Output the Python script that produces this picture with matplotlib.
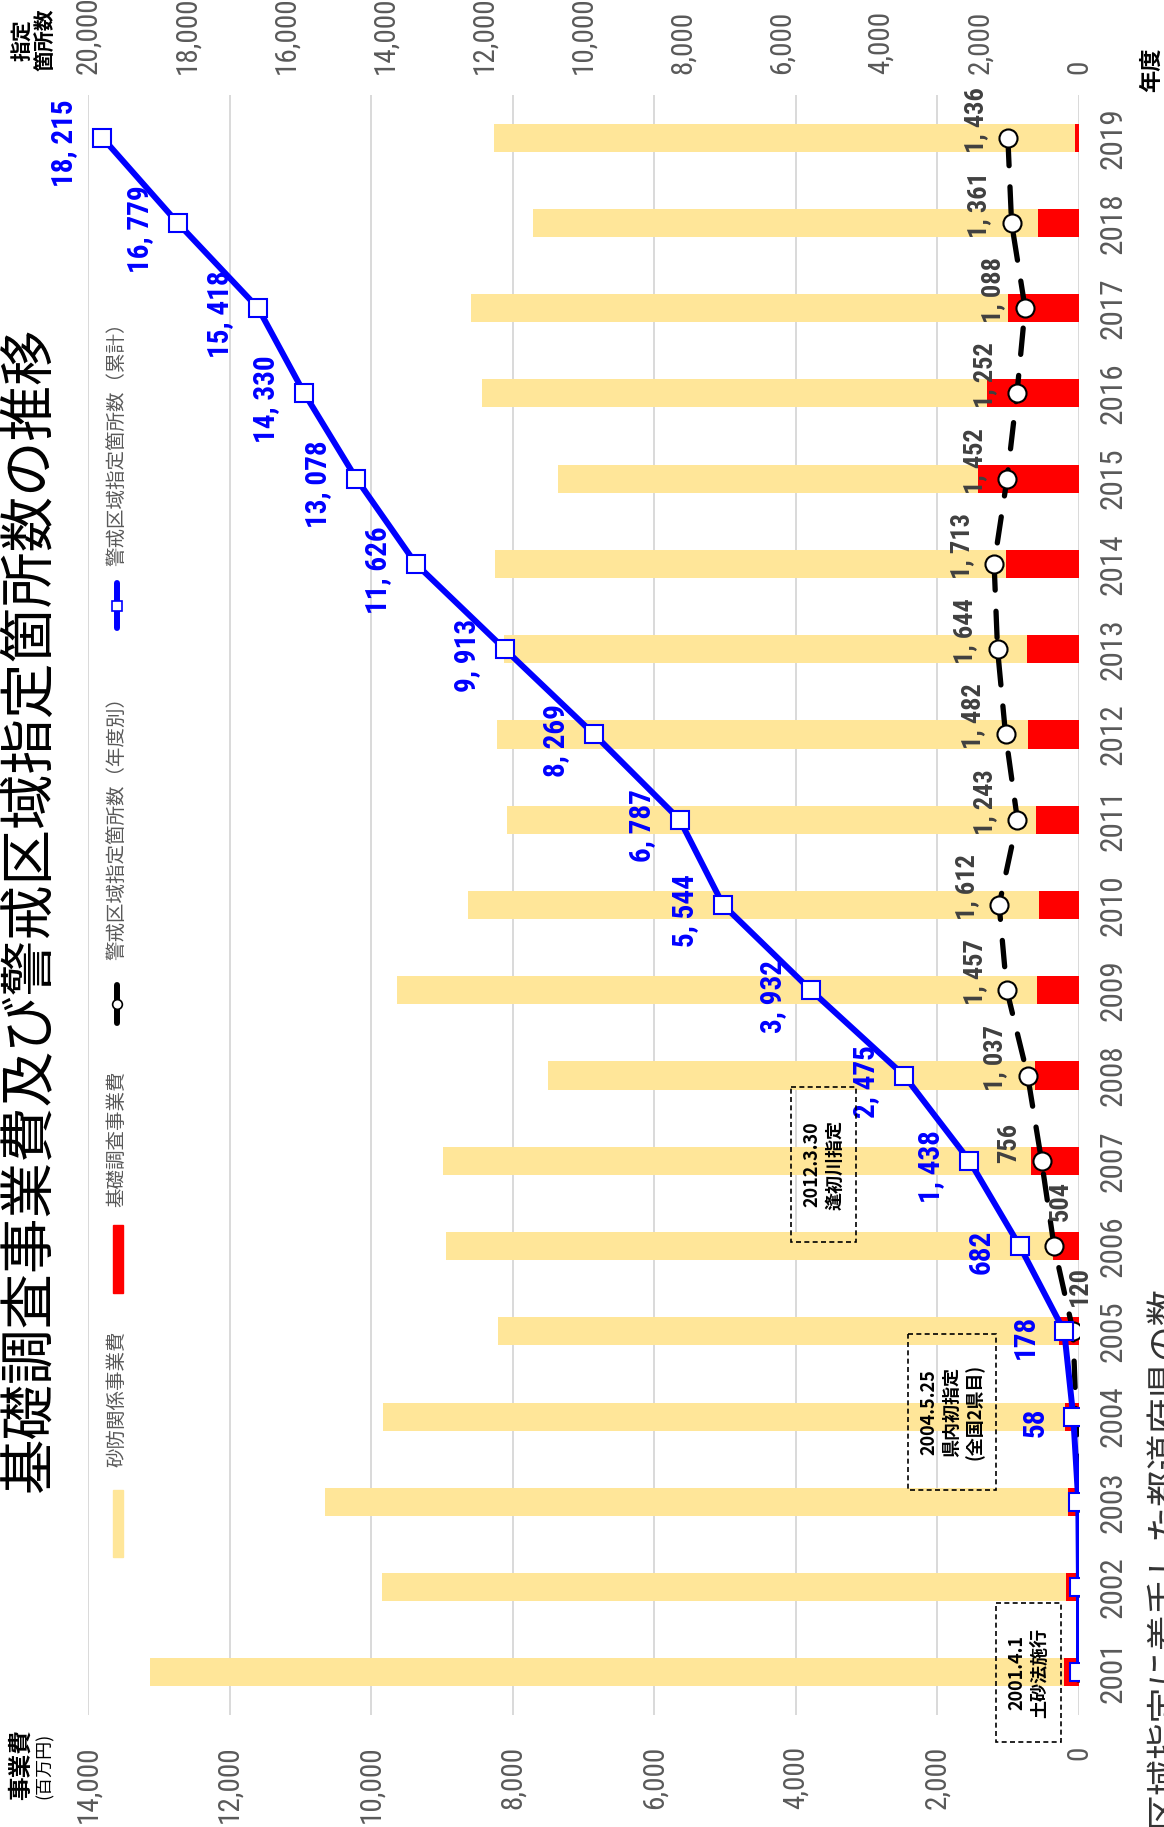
import matplotlib
matplotlib.use("Agg")
import matplotlib.pyplot as plt
from matplotlib import font_manager
from matplotlib.patches import Rectangle

JP = 'Noto Sans CJK JP'
fl = font_manager.fontManager.ttflist
names = {f.name for f in fl}

# 数字用の細めのフォントを探す (なければ縮小して代用)
if 'Liberation Sans Narrow' in names:
    NUM, STRETCH, K = 'Liberation Sans Narrow', 'normal', 1.0
elif 'Roboto Condensed' in names:
    NUM, STRETCH, K = 'Roboto Condensed', 'normal', 1.0
elif any(f.name == 'Roboto' and f.stretch == 'condensed' for f in fl):
    NUM, STRETCH, K = 'Roboto', 'condensed', 1.0
elif any(f.name == 'DejaVu Sans' and f.stretch == 'condensed' for f in fl):
    NUM, STRETCH, K = 'DejaVu Sans', 'condensed', 0.9
else:
    NUM, STRETCH, K = 'Roboto', 'normal', 0.88
plt.rcParams['font.family'] = [JP, 'DejaVu Sans']

# データ
years = list(range(2001, 2020))
sabo_cost = [13120, 9840, 10650, 9830, 8210, 8940, 8990, 7500, 9630, 8630,
             8080, 8220, 8120, 8250, 7360, 8430, 8590, 7720, 8260]   # 砂防関係事業費(百万円)
kiso_cost = [210, 190, 160, 195, 280, 370, 685, 615, 595, 560,
             610, 725, 730, 1030, 1420, 1295, 1005, 580, 60]        # 基礎調査事業費(百万円)
annual = [0, 0, 0, 58, 120, 504, 756, 1037, 1457, 1612,
          1243, 1482, 1644, 1713, 1452, 1252, 1088, 1361, 1436]     # 年度別
cumulative = [0, 0, 0, 58, 178, 682, 1438, 2475, 3932, 5544,
              6787, 8269, 9913, 11626, 13078, 14330, 15418, 16779, 18215]  # 累計(ラベル)
# 元の図で累計の線が描かれている位置(上の目盛で読んだ値)
cumulative_drawn = [0, 0, 14, 116, 298, 1197, 2211, 3529, 5410, 7181,
                    8059, 9783, 11588, 13381, 14584, 15633, 16566, 18190, 19710]
cost_ticks = list(range(0, 14001, 2000))
count_ticks = list(range(0, 20001, 2000))

title = '基礎調査事業費及び警戒区域指定箇所数の推移'
legend_labels = ['砂防関係事業費', '基礎調査事業費', '警戒区域指定箇所数（年度別）', '警戒区域指定箇所数（累計）']
notes = ['2001.4.1\n土砂法施行', '2004.5.25\n県内初指定\n(全国2県目)', '2012.3.30\n逢初川指定']

YELLOW = '#FFE699'
RED = '#FF0000'
BLUE = '#0000FF'
GRAY = '#595959'
num = dict(fontfamily=NUM, fontstretch=STRETCH)

W, H = 1164, 1827
fig = plt.figure(figsize=(W / 100, H / 100), dpi=100)

# 本体(回転した配置: 横が金額・箇所数、縦が年度)
ax = fig.add_axes([88 / W, 1 - 1715 / H, (1079 - 88) / W, (1715 - 95) / H])
ax.barh(years, sabo_cost, height=0.33, color=YELLOW, zorder=2)
ax.barh(years, kiso_cost, height=0.33, color=RED, zorder=3)
ax.set_xlim(14000, 0)
ax.set_ylim(2000.5, 2019.5)
ax.set_axisbelow(True)
ax.grid(axis='x', color='#D9D9D9', lw=1.4)
for s in ax.spines.values():
    s.set_visible(False)
ax.set_xticks(cost_ticks)
ax.set_xticklabels([f'{v:,}' for v in cost_ticks], rotation=90, va='top', ha='center',
                   fontsize=21 * K, color=GRAY, **num)
ax.tick_params(axis='x', length=0, pad=22)
ax.yaxis.tick_right()
ax.set_yticks(years)
ax.set_yticklabels([str(y) for y in years], rotation=90, va='center', ha='left',
                   fontsize=22.5 * K, color=GRAY, **num)
ax.tick_params(axis='y', length=0, pad=14)

ax2 = ax.twiny()
ax2.set_xlim(20000, 0)
for s in ax2.spines.values():
    s.set_visible(False)
ax2.set_xticks(count_ticks)
ax2.set_xticklabels([f'{v:,}' for v in count_ticks], rotation=90, va='bottom', ha='center',
                    fontsize=21 * K, color=GRAY, **num)
ax2.tick_params(axis='x', length=0, pad=15)

ax2.plot(annual, years, color='black', lw=3.8, ls=(0, (5, 4)), dash_capstyle='round',
         marker='o', ms=13, mfc='white', mec='black', mew=1.5, zorder=3)
ax2.plot(cumulative_drawn, years, color=BLUE, lw=4.3, marker='s', ms=13,
         mfc='white', mec=BLUE, mew=1.5, zorder=4)

for y, a in zip(years, annual):
    if a < 100:
        continue
    off = (-32, 18) if a > 600 else (7, 45)
    ax2.annotate(f'{a:,}'.replace(',', ', '), (a, y), xytext=off, textcoords='offset pixels',
                 rotation=90, ha='center', va='center', fontsize=19 * K, fontweight='bold',
                 color='#404040', zorder=6, **num)

for y, c, cd in zip(years, cumulative, cumulative_drawn):
    if c <= 0:
        continue
    ax2.annotate(f'{c:,}'.replace(',', ', '), (cd, y), xytext=(-38, -6), textcoords='offset pixels',
                 rotation=90, ha='center', va='center', fontsize=21 * K, fontweight='bold',
                 color=BLUE, zorder=6, **num)

# タイトル・凡例・注記 (ピクセル座標の重ね合わせ)
ov = fig.add_axes([0, 0, 1, 1], zorder=10)
ov.set_xlim(0, W)
ov.set_ylim(H, 0)
ov.axis('off')

ov.text(30, 910, title, rotation=90, ha='center', va='center', fontsize=40)

ov.add_patch(Rectangle((113, 1490), 10, 67, color=YELLOW))
ov.add_patch(Rectangle((113, 1225), 10, 68, color=RED))
ov.plot([117, 117], [985, 1023], color='black', lw=4.3, solid_capstyle='round')
ov.plot([117], [1004], marker='o', ms=7, mfc='white', mec='black', mew=1.2)
ov.plot([117, 117], [583, 628], color=BLUE, lw=4.3, solid_capstyle='round')
ov.plot([117], [606], marker='s', ms=7, mfc='white', mec=BLUE, mew=1.2)
for yc, lab in zip([1399, 1139, 823, 439], legend_labels):
    ov.text(117, yc, lab, rotation=90, ha='center', va='center', fontsize=14, color=GRAY)

boxes = [(996, 1603, 1061, 1742), (908, 1334, 996, 1490), (791, 1087, 856, 1242)]
for (x0, y0, x1, y1), txt in zip(boxes, notes):
    ov.add_patch(Rectangle((x0, y0), x1 - x0, y1 - y0, fill=False, ls=(0, (3, 2)), lw=1.2, ec='black'))
    ov.text((x0 + x1) / 2, (y0 + y1) / 2, txt, rotation=90, ha='center', va='center',
            fontsize=13, fontweight='bold', linespacing=1.25)

ov.text(34, 40, '指定\n箇所数', rotation=90, ha='center', va='center', fontsize=15,
        fontweight='bold', linespacing=1.1)
ov.text(21, 1765, '事業費', rotation=90, ha='center', va='center', fontsize=17, fontweight='bold')
ov.text(45, 1766, '(百万円)', rotation=90, ha='center', va='center', fontsize=13)
ov.text(1152, 70, '年度', rotation=90, ha='center', va='center', fontsize=16, fontweight='bold')
ov.text(1147, 1827, '区域指定に着手した都道府県の数', rotation=90, ha='left', va='bottom',
        fontsize=26, color='#333333')

fig.savefig('out.png', dpi=100)
